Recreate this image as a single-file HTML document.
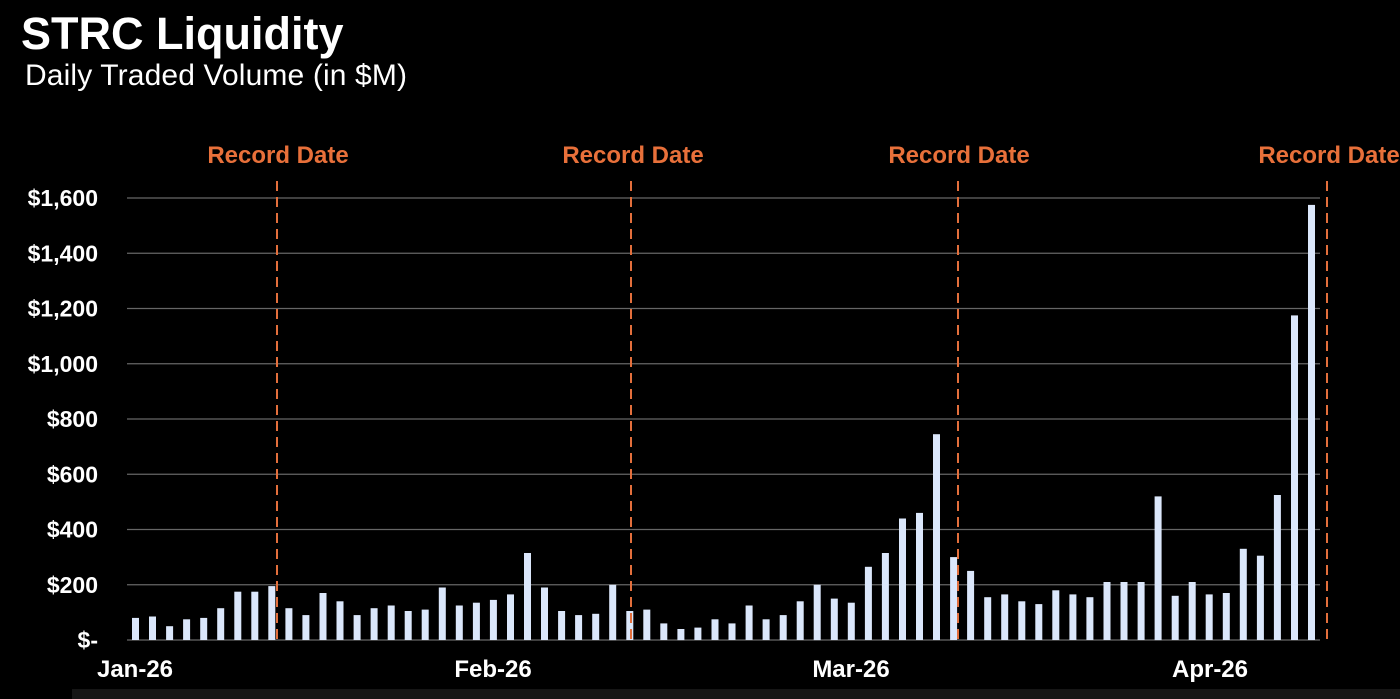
<!DOCTYPE html>
<html><head><meta charset="utf-8"><style>
html,body{margin:0;padding:0;background:#000;}
body{width:1400px;height:699px;overflow:hidden;position:relative;font-family:"Liberation Sans",Arial,sans-serif;}
</style></head><body>
<svg id="c" width="1400" height="699" viewBox="0 0 1400 699" xmlns="http://www.w3.org/2000/svg" style="position:absolute;left:0;top:0">
<rect x="0" y="0" width="1400" height="699" fill="#000"/>
<rect x="72" y="689" width="1328" height="10" fill="#161616"/>
<text x="21" y="49" fill="#fff" font-size="45" font-weight="bold" font-family="Liberation Sans, sans-serif">STRC Liquidity</text>
<text x="25" y="85" fill="#fff" font-size="30" font-family="Liberation Sans, sans-serif" textLength="382">Daily Traded Volume (in $M)</text>
<g id="grid" stroke="#666" stroke-width="1.2"></g>
<g id="ylab" fill="#fff" font-size="23" font-weight="bold" text-anchor="end" font-family="Liberation Sans, sans-serif"></g>
<g id="bars" fill="#dbe7fb"></g>
<g stroke="#e36f3c" stroke-width="2" stroke-dasharray="10,6">
<line x1="277" y1="181" x2="277" y2="645"/>
<line x1="631" y1="181" x2="631" y2="645"/>
<line x1="958" y1="181" x2="958" y2="645"/>
<line x1="1327" y1="181" x2="1327" y2="645"/>
</g>
<g fill="#e8703a" font-size="24" font-weight="bold" text-anchor="middle" font-family="Liberation Sans, sans-serif">
<text x="278" y="163">Record Date</text>
<text x="633" y="163">Record Date</text>
<text x="959" y="163">Record Date</text>
<text x="1329" y="163">Record Date</text>
</g>
<g fill="#fff" font-size="24" font-weight="bold" text-anchor="middle" font-family="Liberation Sans, sans-serif">
<text x="135" y="677">Jan-26</text>
<text x="493" y="677">Feb-26</text>
<text x="851" y="677">Mar-26</text>
<text x="1210" y="677">Apr-26</text>
</g>
</svg>
<script>
var ns="http://www.w3.org/2000/svg";
var g=document.getElementById('grid'),yl=document.getElementById('ylab'),b=document.getElementById('bars');
var labs=["$-","$200","$400","$600","$800","$1,000","$1,200","$1,400","$1,600"];
for(var i=0;i<9;i++){var y=640-i*55.25;
 var l=document.createElementNS(ns,'line');l.setAttribute('x1',127);l.setAttribute('x2',1320);l.setAttribute('y1',y);l.setAttribute('y2',y);g.appendChild(l);
 var t=document.createElementNS(ns,'text');t.setAttribute('x',i==0?98:98);t.setAttribute('y',y+8);t.textContent=labs[i];yl.appendChild(t);}
var v=[80,85,50,75,80,115,175,175,195,115,90,170,140,90,115,125,105,110,190,125,135,145,165,315,190,105,90,95,200,105,110,60,40,45,75,60,125,75,90,140,200,150,135,265,315,440,460,745,300,250,155,165,140,130,180,165,155,210,210,210,520,160,210,165,170,330,305,525,1175,1575];
var n=v.length,step=(1311.5-135.5)/(n-1);
for(var k=0;k<n;k++){var h=v[k]*0.27625;var r=document.createElementNS(ns,'rect');
 r.setAttribute('x',(135.5+k*step-3.5).toFixed(1));r.setAttribute('y',(640-h).toFixed(1));r.setAttribute('width',7);r.setAttribute('height',h.toFixed(1));b.appendChild(r);}
</script>
</body></html>
